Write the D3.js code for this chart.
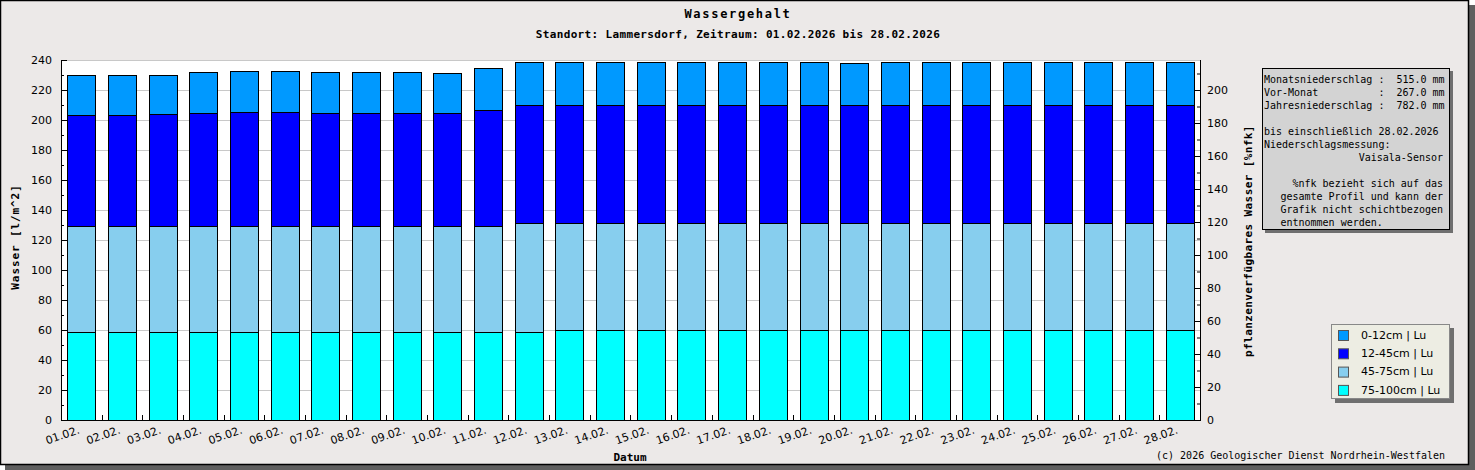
<!DOCTYPE html>
<html>
<head>
<meta charset="utf-8">
<script src="https://cdn.jsdelivr.net/npm/d3@7"></script>
<style>
  body { margin: 0; background: #fff; }
  text { fill: #000; }
</style>
</head>
<body>
<div id="chart"></div>
<script>
/* Wassergehalt, Standort Lammersdorf, Februar 2026 */

const days = ["01.02.", "02.02.", "03.02.", "04.02.", "05.02.", "06.02.", "07.02.",
    "08.02.", "09.02.", "10.02.", "11.02.", "12.02.", "13.02.", "14.02.", "15.02.",
    "16.02.", "17.02.", "18.02.", "19.02.", "20.02.", "21.02.", "22.02.", "23.02.",
    "24.02.", "25.02.", "26.02.", "27.02.", "28.02."];

// layer values in l/m^2
const layer75_100 = [59.0, 59.0, 59.0, 59.0, 59.0, 59.0, 59.0, 59.0, 59.0, 59.0, 59.0, 59.0, 59.8, 59.8,
    59.8, 59.8, 59.8, 59.8, 59.8, 59.8, 59.8, 59.8, 59.8, 59.8, 59.8, 59.8, 59.8, 59.8];
const layer45_75 = [70.1, 70.1, 70.1, 70.1, 70.6, 70.6, 70.6, 70.6, 70.1, 70.1, 70.6, 72.1, 71.3, 71.3,
    71.3, 71.3, 71.3, 71.3, 71.3, 71.3, 71.3, 71.3, 71.3, 71.3, 71.3, 71.3, 71.3, 71.3];
const layer12_45 = [74.0, 74.0, 74.7, 75.3, 75.5, 75.5, 74.8, 74.8, 75.3, 75.3, 76.9, 78.7, 78.7, 78.7,
    78.7, 78.7, 78.7, 78.7, 78.7, 78.7, 78.7, 78.7, 78.7, 78.7, 78.7, 78.7, 78.7, 78.7];
const layer0_12 = [27.1, 27.1, 26.4, 27.4, 27.3, 27.3, 27.4, 27.4, 27.4, 26.7, 27.9, 28.6, 28.6, 28.6,
    28.6, 28.6, 28.6, 28.6, 28.6, 28.0, 28.6, 28.6, 28.6, 28.6, 28.6, 28.6, 28.6, 28.6];

const layerKeys = ["75-100cm | Lu", "45-75cm | Lu", "12-45cm | Lu", "0-12cm | Lu"];
const layerColors = ["#00FFFF", "#87CEEE", "#0000FF", "#0099FF"];

const leftTicks = [0, 20, 40, 60, 80, 100, 120, 140, 160, 180, 200, 220, 240];
const rightTicks = [0, 20, 40, 60, 80, 100, 120, 140, 160, 180, 200];

const infoLeft = ["Monatsniederschlag :  515.0 mm", "Vor-Monat          :  267.0 mm",
    "Jahresniederschlag :  782.0 mm", "", "bis einschließlich 28.02.2026", "Niederschlagsmessung:"];
const infoRight = ["Vaisala-Sensor", "", "%nfk bezieht sich auf das", "gesamte Profil und kann der",
    "Grafik nicht schichtbezogen"];
const infoLast = "entnommen werden.";

const width = 1475, height = 470;
const margin = ({ top: 60, right: 275, bottom: 50, left: 61 });
const mono = "'DejaVu Sans Mono', monospace";
const sans = "'DejaVu Sans', sans-serif";

const data = days.map((d, i) => ({
    day: d,
    "75-100cm | Lu": layer75_100[i],
    "45-75cm | Lu": layer45_75[i],
    "12-45cm | Lu": layer12_45[i],
    "0-12cm | Lu": layer0_12[i]
}));

const svg = d3.select("#chart")
    .append("svg")
    .attr("width", width)
    .attr("height", height)
    .attr("viewBox", [0, 0, width, height]);

/* frame with shadow */
svg.append("rect").attr("x", 5).attr("y", 5).attr("width", width - 5).attr("height", height - 5)
    .attr("fill", "#5f5f5f");
svg.append("rect").attr("x", 0.5).attr("y", 0.5).attr("width", 1468).attr("height", 464)
    .attr("fill", "#ECE9E8").attr("stroke", "#000").attr("stroke-width", 1.5);

let x = d3.scaleBand()
    .domain(days)
    .range([margin.left, width - margin.right])
    .paddingInner(0.31)
    .paddingOuter(0.155);

let y = d3.scaleLinear()
    .domain([0, 240])
    .range([height - margin.bottom, margin.top]);

let y2 = d3.scaleLinear()
    .domain([0, 240 / 1.1])
    .range([height - margin.bottom, margin.top]);

const x0 = margin.left, x1 = width - margin.right, yb = height - margin.bottom;

// plot area
svg.append("rect")
    .attr("x", x0).attr("y", margin.top)
    .attr("width", x1 - x0).attr("height", yb - margin.top)
    .attr("fill", "#fff");

// grid
svg.append("g")
    .selectAll("line")
    .data(leftTicks.slice(1))
    .join("line")
    .attr("x1", x0).attr("x2", x1)
    .attr("y1", d => Math.round(y(d)) + 0.5).attr("y2", d => Math.round(y(d)) + 0.5)
    .attr("stroke", "#c8c8c8");

/* stacked bars */
let series = d3.stack().keys(layerKeys)(data);

svg.append("g")
    .attr("shape-rendering", "crispEdges")
    .selectAll("g")
    .data(series)
    .join("g")
    .attr("fill", (d, i) => layerColors[i])
    .selectAll("rect")
    .data(d => d)
    .join("rect")
    .attr("x", d => Math.round(x(d.data.day)) + 0.5)
    .attr("width", Math.round(x.bandwidth()))
    .attr("y", d => Math.round(y(d[1])) + 0.5)
    .attr("height", d => Math.round(y(d[0])) - Math.round(y(d[1])))
    .attr("stroke", "#000")
    .attr("stroke-width", 1);

// left axis
let leftAxis = d3.axisLeft(y).tickValues(d3.range(0, 241, 10)).tickSize(-6).tickFormat("");
let gl = svg.append("g").attr("transform", `translate(${x0},0)`).call(leftAxis);
gl.selectAll(".tick line").attr("x2", d => d % 20 === 0 ? 6 : 3);
gl.select(".domain").attr("d", `M0.5,${margin.top}V${yb}`);
svg.append("g")
    .selectAll("text")
    .data(leftTicks)
    .join("text")
    .attr("x", 52).attr("y", d => y(d)).attr("dy", "0.35em")
    .attr("text-anchor", "end")
    .style("font-family", sans).style("font-size", "11px")
    .text(d => d);

// right axis
let rightAxis = d3.axisRight(y2).tickValues(d3.range(0, 211, 10)).tickSize(0).tickFormat("");
let gr = svg.append("g").attr("transform", `translate(${x1},0)`).call(rightAxis);
gr.selectAll(".tick line").attr("x2", d => d % 20 === 0 ? -6 : -3);
gr.select(".domain").attr("d", `M0.5,${margin.top}V${yb}`);
svg.append("g")
    .selectAll("text")
    .data(rightTicks)
    .join("text")
    .attr("x", 1207).attr("y", d => y2(d)).attr("dy", "0.35em")
    .style("font-family", sans).style("font-size", "11px")
    .text(d => d);

// bottom axis
svg.append("line")
    .attr("x1", x0).attr("x2", x1 + 1)
    .attr("y1", yb + 0.5).attr("y2", yb + 0.5)
    .attr("stroke", "#000");
svg.append("g")
    .selectAll("line")
    .data(days.slice(0, -1))
    .join("line")
    .attr("x1", d => Math.round(x(d) + x.bandwidth() + (x.step() - x.bandwidth()) / 2) + 0.5)
    .attr("x2", d => Math.round(x(d) + x.bandwidth() + (x.step() - x.bandwidth()) / 2) + 0.5)
    .attr("y1", yb - 5).attr("y2", yb)
    .attr("stroke", "#000");

svg.append("g")
    .selectAll("text")
    .data(days)
    .join("text")
    .attr("text-anchor", "end")
    .attr("transform", d => `translate(${x(d) + x.bandwidth() / 2 - 1},${yb + 13}) rotate(-19)`)
    .style("font-family", sans).style("font-size", "11px")
    .text(d => d);

/* titles */
svg.append("text")
    .attr("x", 738).attr("y", 18)
    .attr("text-anchor", "middle")
    .style("font-family", mono).style("font-weight", "bold").style("font-size", "12px")
    .style("letter-spacing", "1.7px")
    .text("Wassergehalt");

svg.append("text")
    .attr("x", 738).attr("y", 38)
    .attr("text-anchor", "middle")
    .style("font-family", mono).style("font-weight", "bold").style("font-size", "11px")
    .style("letter-spacing", "0.35px")
    .text("Standort: Lammersdorf, Zeitraum: 01.02.2026 bis 28.02.2026");

svg.append("text")
    .attr("x", 630).attr("y", 461)
    .attr("text-anchor", "middle")
    .style("font-family", mono).style("font-weight", "bold").style("font-size", "11px")
    .text("Datum");

svg.append("text")
    .attr("transform", "translate(19,237) rotate(-90)")
    .attr("text-anchor", "middle")
    .style("font-family", mono).style("font-weight", "bold").style("font-size", "11px")
    .style("letter-spacing", "0.9px")
    .text("Wasser [l/m^2]");

svg.append("text")
    .attr("transform", "translate(1252,241) rotate(-90)")
    .attr("text-anchor", "middle")
    .style("font-family", mono).style("font-weight", "bold").style("font-size", "11px")
    .style("letter-spacing", "0.4px")
    .text("pflanzenverfügbares Wasser [%nfk]");

svg.append("text")
    .attr("x", 1445).attr("y", 459)
    .attr("text-anchor", "end")
    .style("font-family", mono).style("font-size", "10px")
    .text("(c) 2026 Geologischer Dienst Nordrhein-Westfalen");

/* info box */
let info = svg.append("g");
info.append("rect").attr("x", 1265).attr("y", 71).attr("width", 188).attr("height", 162).attr("fill", "#6f6f6f");
info.append("rect").attr("x", 1262.5).attr("y", 68.5).attr("width", 187).attr("height", 161)
    .attr("fill", "#D3D3D3").attr("stroke", "#000");

info.selectAll(".l")
    .data(infoLeft)
    .join("text")
    .attr("class", "l")
    .attr("x", 1264).attr("y", (d, i) => 83 + 13 * i)
    .style("font-family", mono).style("font-size", "10px").style("white-space", "pre")
    .attr("xml:space", "preserve")
    .text(d => d);

info.selectAll(".r")
    .data(infoRight)
    .join("text")
    .attr("class", "r")
    .attr("x", 1443).attr("y", (d, i) => 83 + 13 * (i + 6))
    .attr("text-anchor", "end")
    .style("font-family", mono).style("font-size", "10px")
    .text(d => d);

info.append("text")
    .attr("x", 1443 - 27 * 6.02).attr("y", 83 + 13 * 11)
    .style("font-family", mono).style("font-size", "10px")
    .text(infoLast);

/* legend */
let legend = svg.append("g");
legend.append("rect").attr("x", 1335).attr("y", 328).attr("width", 119).attr("height", 75).attr("fill", "#6f6f6f");
legend.append("rect").attr("x", 1331.5).attr("y", 324.5).attr("width", 118).attr("height", 74)
    .attr("fill", "#EDEDE3").attr("stroke", "#888");

const legendOrder = layerKeys.map((k, i) => ({ key: k, color: layerColors[i] })).reverse();

let item = legend.selectAll(".item")
    .data(legendOrder)
    .join("g")
    .attr("class", "item")
    .attr("transform", (d, i) => `translate(1338,${335 + 18.3 * i})`);

item.append("rect")
    .attr("x", 0.5).attr("y", -4.5)
    .attr("width", 10).attr("height", 10)
    .attr("fill", d => d.color)
    .attr("stroke", "#555");

item.append("text")
    .attr("x", 23).attr("y", 0).attr("dy", "0.35em")
    .style("font-family", sans).style("font-size", "11px")
    .text(d => d.key);
</script>
</body>
</html>
